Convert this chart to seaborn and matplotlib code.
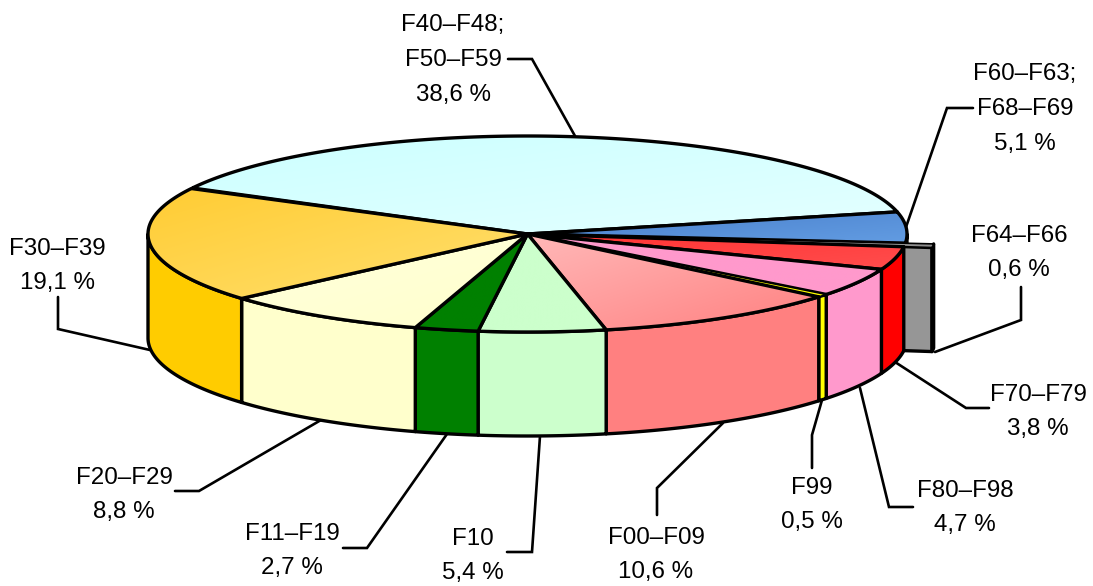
import numpy as np
import matplotlib
matplotlib.use("Agg")
import matplotlib.pyplot as plt
import seaborn as sns
from matplotlib.colors import LinearSegmentedColormap
from matplotlib.patches import Polygon

categories = ["F40–F48;\nF50–F59", "F60–F63;\nF68–F69", "F64–F66", "F70–F79", "F80–F98",
              "F99", "F00–F09", "F10", "F11–F19", "F20–F29", "F30–F39"]
values = [38.6, 5.1, 0.6, 3.8, 4.7, 0.5, 10.6, 5.4, 2.7, 8.8, 19.1]

sns.set_theme(style="white")
plt.rcParams["font.family"] = ["Liberation Sans", "DejaVu Sans"]

side_colors = sns.color_palette(["#CCFFFF", "#3A6FB8", "#969696", "#FF0000", "#FF99CC", "#FFFF00",
                                 "#FF8080", "#CCFFCC", "#008000", "#FFFFCC", "#FFCC00"])
top_start = ["#CCFFFF", "#4A80CC", "#FFFFFF", "#FF3333", "#FF99CC", "#FFFF00",
             "#FFB8B8", "#CCFFCC", "#008000", "#FFFFDD", "#FFCC33"]
top_end = ["#E4FFFF", "#629CE2", "#808080", "#FF4D4D", "#FF99CC", "#FFFF00",
           "#FF8080", "#CCFFCC", "#008000", "#FFFFCC", "#FFE070"]

# label centre, leader line
label_pos = [(453, 60), (1025, 109), (1019, 253), (1038, 412), (965, 508),
             (812, 505), (656, 555), (473, 556), (292, 551), (124, 495), (57, 266)]
leaders = [[(508, 59), (532, 59), (575, 136)],
           [(973, 108), (947, 108), (905, 230)],
           [(1021, 287), (1021, 320), (935, 352)],
           [(989, 408), (966, 408), (895, 362)],
           [(913, 507), (889, 507), (860, 388)],
           [(812, 468), (812, 435), (822, 400)],
           [(657, 515), (657, 488), (723, 423)],
           [(507, 552), (532, 552), (540, 436)],
           [(343, 548), (367, 548), (447, 434)],
           [(175, 491), (199, 491), (321, 420)],
           [(58, 297), (58, 329), (150, 350)]]

cx, cy = 527.5, 234
rx, ry = 379.5, 98
depth = 104
start_angle = 152
explode = {"F64–F66": 0.075}
edge_w = 2.4

fig = plt.figure(figsize=(10.93, 5.86), dpi=100)
ax = fig.add_axes([0, 0, 1, 1])
ax.set_xlim(0, 1093)
ax.set_ylim(586, 0)
ax.axis("off")


def arc(t1, t2, ox, oy):
    t = np.radians(np.linspace(t1, t2, max(int(abs(t2 - t1) * 3), 2)))
    return np.column_stack([cx + ox + rx * np.cos(t), cy + oy - ry * np.sin(t)])


def gradient_fill(pts, c1, c2, z):
    x0, y0 = pts.min(axis=0)
    x1, y1 = pts.max(axis=0)
    xx, yy = np.meshgrid(np.linspace(0, 1, 200), np.linspace(0, 1, 200))
    cmap = LinearSegmentedColormap.from_list("g", [c1, c2])
    im = ax.imshow((xx + yy) / 2, extent=(x0, x1, y1, y0), cmap=cmap, vmin=0, vmax=1,
                   aspect="auto", zorder=z, interpolation="bilinear")
    patch = Polygon(pts, closed=True, transform=ax.transData, fc="none", ec="none", zorder=z)
    ax.add_patch(patch)
    im.set_clip_path(patch)


def draw_slice(i, t1, t2, z):
    e = explode.get(categories[i], 0)
    mid = np.radians((t1 + t2) / 2)
    ox, oy = e * rx * np.cos(mid), -e * ry * np.sin(mid)
    c = (cx + ox, cy + oy)
    top = np.vstack([[c], arc(t1, t2, ox, oy)])
    if e > 0:
        # pulled out slice shows its cut face
        p = arc(t2, t2, ox, oy)[0]
        face = [c, p, (p[0], p[1] + depth), (c[0], c[1] + depth)]
        ax.add_patch(Polygon(face, fc=side_colors[i], ec="black", lw=edge_w, joinstyle="round", zorder=z))
    # wall only where the rim faces the viewer (angles run clockwise, so t1 > t2)
    a, b = t1, t2
    for k in (0, -360):
        lo, hi = min(a, b), max(a, b)
        w1, w2 = min(hi, 360 + k), max(lo, 180 + k)
        if w1 > w2:
            rim = arc(w1, w2, ox, oy)
            wall = np.vstack([rim, rim[::-1] + [0, depth]])
            ax.add_patch(Polygon(wall, fc=side_colors[i], ec="black", lw=edge_w, joinstyle="round", zorder=z))
    gradient_fill(top, top_start[i], top_end[i], z + 0.1)
    # the two thinnest slices would turn solid black with the full edge width
    lw = 1.2 if values[i] < 1 else edge_w
    ax.add_patch(Polygon(top, fc="none", ec="black", lw=lw, joinstyle="round", zorder=z + 0.2))


angles = start_angle - np.concatenate([[0], np.cumsum(values)]) * 3.6
for i in range(len(values)):
    draw_slice(i, angles[i], angles[i + 1], 2 + i)

for i, (cat, val) in enumerate(zip(categories, values)):
    xs, ys = zip(*leaders[i])
    ax.plot(xs, ys, color="black", lw=1.9, zorder=1, solid_joinstyle="miter")
    txt = cat + "\n" + f"{val:.1f}".replace(".", ",") + " %"
    ax.text(label_pos[i][0], label_pos[i][1], txt, ha="center", va="center", fontsize=17.4,
            color="black", linespacing=1.75, zorder=20)

ax.set_xlim(0, 1093)
ax.set_ylim(586, 0)
fig.savefig("out.png", dpi=100, facecolor="white")
